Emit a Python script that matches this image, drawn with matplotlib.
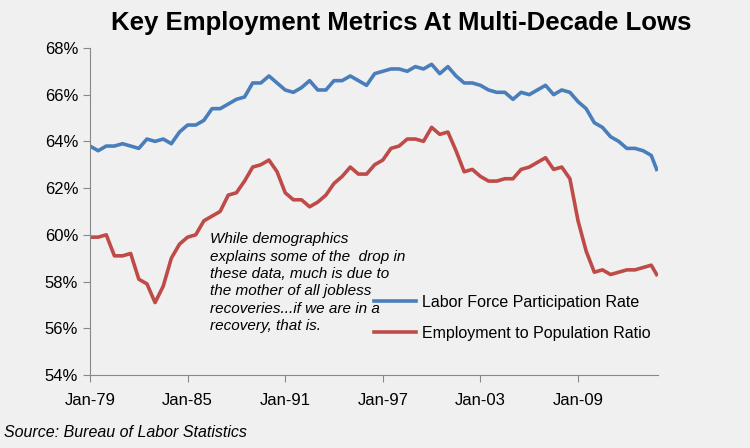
import matplotlib.pyplot as plt

plt.rcParams['font.family'] = ['Liberation Sans Narrow', 'Liberation Sans', 'DejaVu Sans']

# semi-annual readings (Jan, Jul) 1979-2013, plus last point Nov-13
anos = []
for a in range(1979, 2014):
    anos += [a, a + 0.5]
anos.append(2013 + 10 / 12)

participacao = [63.8, 63.6, 63.8, 63.8, 63.9, 63.8, 63.7, 64.1, 64.0, 64.1,
                63.9, 64.4, 64.7, 64.7, 64.9, 65.4, 65.4, 65.6, 65.8, 65.9,
                66.5, 66.5, 66.8, 66.5, 66.2, 66.1, 66.3, 66.6, 66.2, 66.2,
                66.6, 66.6, 66.8, 66.6, 66.4, 66.9, 67.0, 67.1, 67.1, 67.0,
                67.2, 67.1, 67.3, 66.9, 67.2, 66.8, 66.5, 66.5, 66.4, 66.2,
                66.1, 66.1, 65.8, 66.1, 66.0, 66.2, 66.4, 66.0, 66.2, 66.1,
                65.7, 65.4, 64.8, 64.6, 64.2, 64.0, 63.7, 63.7, 63.6, 63.4,
                62.8]
emprego = [59.9, 59.9, 60.0, 59.1, 59.1, 59.2, 58.1, 57.9, 57.1, 57.8,
           59.0, 59.6, 59.9, 60.0, 60.6, 60.8, 61.0, 61.7, 61.8, 62.3,
           62.9, 63.0, 63.2, 62.7, 61.8, 61.5, 61.5, 61.2, 61.4, 61.7,
           62.2, 62.5, 62.9, 62.6, 62.6, 63.0, 63.2, 63.7, 63.8, 64.1,
           64.1, 64.0, 64.6, 64.3, 64.4, 63.6, 62.7, 62.8, 62.5, 62.3,
           62.3, 62.4, 62.4, 62.8, 62.9, 63.1, 63.3, 62.8, 62.9, 62.4,
           60.6, 59.3, 58.4, 58.5, 58.3, 58.4, 58.5, 58.5, 58.6, 58.7,
           58.3]

ticks_x = [1979, 1985, 1991, 1997, 2003, 2009]
rotulos_x = ['Jan-79', 'Jan-85', 'Jan-91', 'Jan-97', 'Jan-03', 'Jan-09']
ticks_y = [54, 56, 58, 60, 62, 64, 66, 68]

fundo = '#f0f0f0'
fig = plt.figure(figsize=(7.5, 4.48), dpi=100, facecolor=fundo)
ax = fig.add_axes([0.12, 0.163, 0.757, 0.73], facecolor=fundo)

ax.plot(anos, participacao, color='#4a7ebb', lw=2.6, label='Labor Force Participation Rate')
ax.plot(anos, emprego, color='#be4b48', lw=2.6, label='Employment to Population Ratio')

ax.set_xlim(1979, 2013.9)
ax.set_ylim(54, 68)
ax.set_xticks(ticks_x)
ax.set_xticklabels(rotulos_x, fontsize=12)
ax.set_yticks(ticks_y)
ax.set_yticklabels([f'{v}%' for v in ticks_y], fontsize=12)
ax.tick_params(axis='x', direction='out', length=5, color='#888888', pad=8)
ax.tick_params(axis='y', direction='out', length=5, color='#888888')
for s in ['top', 'right']:
    ax.spines[s].set_visible(False)
for s in ['left', 'bottom']:
    ax.spines[s].set_color('#888888')

ax.legend(loc='lower left', bbox_to_anchor=(0.475, 0.06), frameon=False,
          fontsize=11.5, handlelength=2.6, handletextpad=0.4, labelspacing=1.0)

ax.text(1986.4, 60.1, 'While demographics\nexplains some of the  drop in\nthese data, much is due to\n'
        'the mother of all jobless\nrecoveries...if we are in a\nrecovery, that is.',
        fontsize=11, style='italic', va='top', linespacing=1.3)

fig.text(0.535, 0.933, 'Key Employment Metrics At Multi-Decade Lows', ha='center',
         fontsize=18.5, fontweight='bold')
fig.text(0.005, 0.025, 'Source: Bureau of Labor Statistics', fontsize=11.5, style='italic')

fig.savefig('out.png', dpi=100, facecolor=fundo)
